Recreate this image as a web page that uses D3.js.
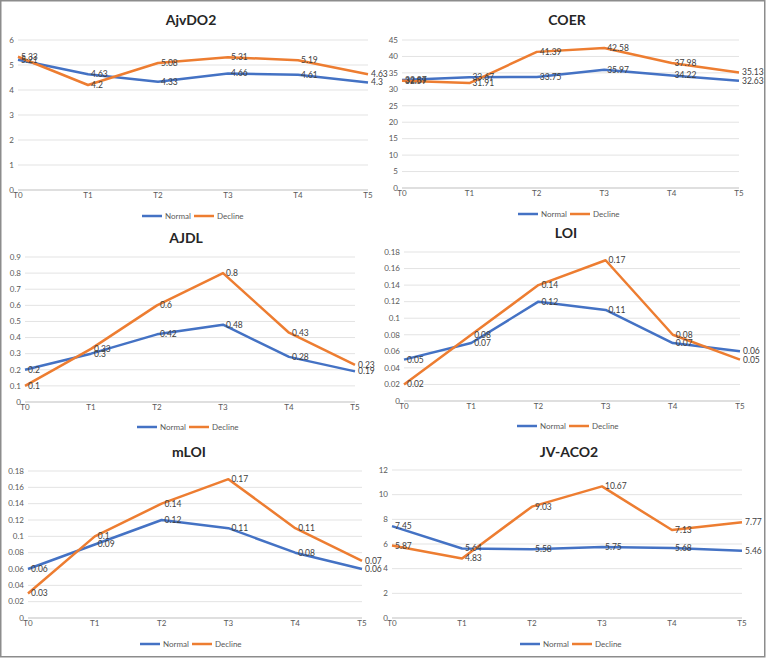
<!DOCTYPE html>
<html>
<head>
<meta charset="utf-8">
<script src="https://cdn.jsdelivr.net/npm/d3@7"></script>
<style>
  body { margin: 0; background: #fff; }
  svg { display: block; font-family: Lato, "Open Sans", sans-serif; }
</style>
</head>
<body>
<svg id="viz" width="767" height="658"></svg>
<script>
const categories = ["T0", "T1", "T2", "T3", "T4", "T5"];
const seriesNames = ["Normal", "Decline"];

const ajvdo2Normal = [5.21, 4.63, 4.33, 4.66, 4.61, 4.3];
const ajvdo2Decline = [5.33, 4.2, 5.08, 5.31, 5.19, 4.63];
const ajvdo2Ticks = [0, 1, 2, 3, 4, 5, 6];

const coerNormal = [32.87, 33.67, 33.75, 35.97, 34.22, 32.63];
const coerDecline = [32.59, 31.91, 41.39, 42.58, 37.98, 35.13];
const coerTicks = [0, 5, 10, 15, 20, 25, 30, 35, 40, 45];

const ajdlNormal = [0.2, 0.3, 0.42, 0.48, 0.28, 0.19];
const ajdlDecline = [0.1, 0.33, 0.6, 0.8, 0.43, 0.23];
const ajdlTicks = [0, 0.1, 0.2, 0.3, 0.4, 0.5, 0.6, 0.7, 0.8, 0.9];

const loiNormal = [0.05, 0.07, 0.12, 0.11, 0.07, 0.06];
const loiDecline = [0.02, 0.08, 0.14, 0.17, 0.08, 0.05];
const loiTicks = [0, 0.02, 0.04, 0.06, 0.08, 0.1, 0.12, 0.14, 0.16, 0.18];

const mloiNormal = [0.06, 0.09, 0.12, 0.11, 0.08, 0.06];
const mloiDecline = [0.03, 0.1, 0.14, 0.17, 0.11, 0.07];
const mloiTicks = [0, 0.02, 0.04, 0.06, 0.08, 0.1, 0.12, 0.14, 0.16, 0.18];

const jvNormal = [7.45, 5.64, 5.58, 5.75, 5.68, 5.46];
const jvDecline = [5.87, 4.83, 9.03, 10.67, 7.13, 7.77];
const jvTicks = [0, 2, 4, 6, 8, 10, 12];

const colors = ["#4472C4", "#ED7D31"];

const svg = d3.select("#viz");

// outer frame
svg.append("rect")
    .attr("x", 0.75).attr("y", 0.75)
    .attr("width", 764).attr("height", 656)
    .attr("fill", "none")
    .attr("stroke", "#8c8c8c")
    .attr("stroke-width", 1.5);

function drawPanel(box, title, normal, decline, ticks) {
    const g = svg.append("g");

    const x = d3.scalePoint()
        .domain(categories)
        .range([box.left, box.right]);

    const y = d3.scaleLinear()
        .domain([0, d3.max(ticks)])
        .range([box.bottom, box.top]);

    // gridlines
    g.selectAll(".grid")
        .data(ticks)
        .join("line")
            .attr("x1", box.left)
            .attr("x2", box.right)
            .attr("y1", d => y(d))
            .attr("y2", d => y(d))
            .attr("stroke", d => d === 0 ? "#bfbfbf" : "#e3e3e3")
            .attr("stroke-width", 1);

    // y tick labels
    g.selectAll(".ytick")
        .data(ticks)
        .join("text")
            .attr("x", box.left - 4)
            .attr("y", d => y(d))
            .attr("dy", "0.35em")
            .attr("text-anchor", "end")
            .attr("font-size", 8)
            .attr("fill", "#595959")
            .text(d => +d.toFixed(2));

    // x tick labels
    g.selectAll(".xtick")
        .data(categories)
        .join("text")
            .attr("x", d => x(d))
            .attr("y", box.bottom + 8)
            .attr("text-anchor", "middle")
            .attr("font-size", 8)
            .attr("fill", "#595959")
            .text(d => d);

    // title
    g.append("text")
        .attr("x", box.titleX)
        .attr("y", box.titleY)
        .attr("text-anchor", "middle")
        .attr("font-size", 14)
        .attr("font-weight", "bold")
        .attr("fill", "#262626")
        .text(title);

    const line = d3.line()
        .x((d, i) => x(categories[i]))
        .y(d => y(d));

    [normal, decline].forEach((vals, si) => {
        g.append("path")
            .datum(vals)
            .attr("d", line)
            .attr("fill", "none")
            .attr("stroke", colors[si])
            .attr("stroke-width", 2.5)
            .attr("stroke-linejoin", "round");
    });

    [normal, decline].forEach(vals => {
        g.selectAll(null)
            .data(vals)
            .join("text")
                .attr("x", (d, i) => x(categories[i]) + 3)
                .attr("y", d => y(d))
                .attr("dy", "0.35em")
                .attr("font-size", 8.5)
                .attr("fill", "#404040")
                .text(d => d);
    });

    // legend
    const lg = g.append("g")
        .attr("transform", `translate(${box.titleX - 49},${box.legendY})`);
    seriesNames.forEach((name, i) => {
        const off = i * 52;
        lg.append("line")
            .attr("x1", off).attr("x2", off + 20)
            .attr("y1", 0).attr("y2", 0)
            .attr("stroke", colors[i])
            .attr("stroke-width", 2.5);
        lg.append("text")
            .attr("x", off + 23)
            .attr("y", 0)
            .attr("dy", "0.35em")
            .attr("font-size", 8)
            .attr("fill", "#595959")
            .text(name);
    });
}

drawPanel({ left: 18, right: 368, top: 40, bottom: 190, titleX: 191, titleY: 25, legendY: 216 },
    "AjvDO2", ajvdo2Normal, ajvdo2Decline, ajvdo2Ticks);
drawPanel({ left: 402, right: 739, top: 40, bottom: 188, titleX: 567, titleY: 25, legendY: 214 },
    "COER", coerNormal, coerDecline, coerTicks);
drawPanel({ left: 25, right: 355, top: 257, bottom: 402, titleX: 186, titleY: 243, legendY: 427 },
    "AJDL", ajdlNormal, ajdlDecline, ajdlTicks);
drawPanel({ left: 404, right: 740, top: 252, bottom: 401, titleX: 566, titleY: 238, legendY: 426 },
    "LOI", loiNormal, loiDecline, loiTicks);
drawPanel({ left: 28, right: 362, top: 471, bottom: 618, titleX: 189, titleY: 457, legendY: 644 },
    "mLOI", mloiNormal, mloiDecline, mloiTicks);
drawPanel({ left: 392, right: 742, top: 470, bottom: 618, titleX: 569, titleY: 457, legendY: 644 },
    "JV-ACO2", jvNormal, jvDecline, jvTicks);
</script>
</body>
</html>
